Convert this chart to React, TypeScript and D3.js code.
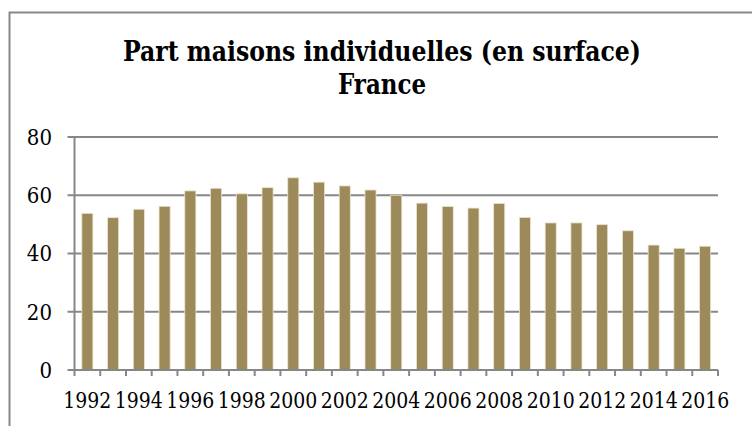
import React from "react";
import * as d3 from "d3";

const years = [
  "1992", "1993", "1994", "1995", "1996", "1997", "1998", "1999", "2000",
  "2001", "2002", "2003", "2004", "2005", "2006", "2007", "2008", "2009",
  "2010", "2011", "2012", "2013", "2014", "2015", "2016",
];
const values = [
  53.8, 52.3, 55.2, 56.2, 61.5, 62.4, 60.5, 62.6, 66.0, 64.5, 63.2, 61.8, 60.0,
  57.3, 56.1, 55.6, 57.2, 52.4, 50.5, 50.5, 49.9, 47.8, 42.9, 41.8, 42.5,
];
const yTicks = [0, 20, 40, 60, 80];
const titleLines = ["Part maisons individuelles (en surface)", "France"];

const W = 752;
const H = 426;
const plot = { left: 74.5, right: 718, top: 137, bottom: 370 };
const FONT = "'DejaVu Serif Condensed', 'DejaVu Serif', serif";
const GRID = "#878787";

export default function App() {
  const x = d3
    .scaleBand<string>()
    .domain(years)
    .range([plot.left, plot.right])
    .paddingInner(0.57)
    .paddingOuter(0.285);
  const y = d3.scaleLinear().domain([0, 80]).range([plot.bottom, plot.top]);
  const step = x.step();
  const boundaries = d3.range(years.length + 1).map((i) => plot.left + i * step);

  return (
    <svg
      width={W}
      height={H}
      style={{ position: "absolute", left: 0, top: 0, background: "#fff", fontFamily: FONT }}
    >
      <rect x={9.5} y={12.5} width={800} height={500} fill="none" stroke={GRID} strokeWidth={2} />
      {titleLines.map((t, i) => (
        <text
          key={t}
          x={382}
          y={61 + i * 33}
          textAnchor="middle"
          fontWeight="bold"
          fontSize={27}
          fill="#000"
          textLength={i === 0 ? 518 : 88}
          lengthAdjust="spacingAndGlyphs"
        >
          {t}
        </text>
      ))}
      {yTicks.map((t) => (
        <g key={t}>
          {t > 0 && (
            <line x1={plot.left - 7} x2={plot.right} y1={y(t)} y2={y(t)} stroke={GRID} strokeWidth={2} />
          )}
          {t === 0 && (
            <line x1={plot.left - 7} x2={plot.left} y1={y(t)} y2={y(t)} stroke={GRID} strokeWidth={2} />
          )}
          <text x={52} y={y(t)} dy="0.36em" textAnchor="end" fontSize={22} fill="#000">
            {t}
          </text>
        </g>
      ))}
      <line x1={plot.left} x2={plot.left} y1={plot.top} y2={plot.bottom} stroke={GRID} strokeWidth={2} />
      {years.map((yr, i) => (
        <rect
          key={yr}
          x={x(yr)!}
          y={y(values[i])}
          width={x.bandwidth()}
          height={plot.bottom - y(values[i])}
          fill="#9d8a5b"
          stroke="#ece4cf"
          strokeWidth={0.8}
        />
      ))}
      <line x1={plot.left} x2={plot.right} y1={plot.bottom} y2={plot.bottom} stroke={GRID} strokeWidth={2} />
      {boundaries.map((b, i) => (
        <line key={i} x1={b} x2={b} y1={plot.bottom} y2={plot.bottom + 6} stroke={GRID} strokeWidth={2} />
      ))}
      {years.map((yr, i) =>
        i % 2 === 0 ? (
          <text
            key={yr}
            x={x(yr)! + x.bandwidth() / 2}
            y={408}
            textAnchor="middle"
            fontSize={22}
            fill="#000"
            textLength={48}
            lengthAdjust="spacingAndGlyphs"
          >
            {yr}
          </text>
        ) : null
      )}
    </svg>
  );
}
